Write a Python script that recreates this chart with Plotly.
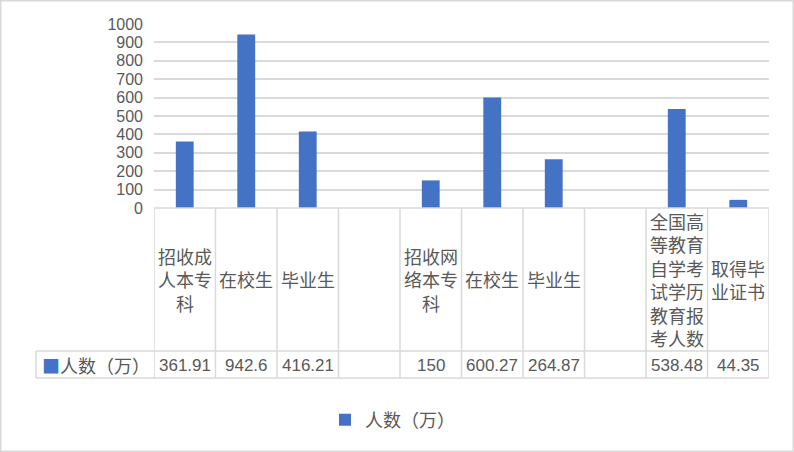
import plotly.graph_objects as go

# 数据
categories = ["招收成人本专科", "在校生", "毕业生", "",
              "招收网络本专科", "在校生", "毕业生", "",
              "全国高等教育自学考试学历教育报考人数", "取得毕业证书"]
values = [361.91, 942.6, 416.21, None, 150, 600.27, 264.87, None, 538.48, 44.35]
value_labels = ["361.91", "942.6", "416.21", "", "150", "600.27", "264.87", "",
                "538.48", "44.35"]
series_name = "人数（万）"
y_ticks = list(range(0, 1001, 100))

W, H = 794, 452
L, R, T, B = 154, 769, 24, 208   # 绘图区像素边界
BAR = "#4472C4"
GRID = "#D9D9D9"
TXT = "#595959"
FONT = "Noto Sans CJK SC"
NUMFONT = "Liberation Sans"


def px(p):
    return (p - L) / (R - L)


def py(p):
    return (B - p) / (B - T)


def wrap(s, n=3):
    return "<br>".join(s[i:i + n] for i in range(0, len(s), n))


xs = list(range(len(categories)))

fig = go.Figure()
fig.add_trace(go.Bar(x=xs, y=values, name=series_name,
                     marker=dict(color=BAR, line=dict(width=0))))

shapes = []
line = dict(color=GRID, width=1.5)
# 表格竖线
for i in range(len(categories) + 1):
    shapes.append(dict(type="line", xref="x", yref="paper",
                       x0=i - 0.5, x1=i - 0.5, y0=py(B), y1=py(378), line=line))
# 表格横线
shapes.append(dict(type="line", xref="paper", yref="paper",
                   x0=0, x1=1, y0=py(B), y1=py(B), line=line))
for yy in (351, 378):
    shapes.append(dict(type="line", xref="paper", yref="paper",
                       x0=px(36), x1=1, y0=py(yy), y1=py(yy), line=line))
shapes.append(dict(type="line", xref="paper", yref="paper",
                   x0=px(36), x1=px(36), y0=py(351), y1=py(378), line=line))
# 外框
shapes.append(dict(type="rect", xref="paper", yref="paper",
                   x0=px(0.75), x1=px(793.25), y0=py(0.75), y1=py(451.25),
                   line=dict(color=GRID, width=1.5)))

annotations = []
for i, c in enumerate(categories):
    if c:
        annotations.append(dict(x=i, y=py(279), xref="x", yref="paper",
                                yanchor="middle", text=wrap(c),
                                showarrow=False, align="center",
                                font=dict(size=18, color=TXT, family=FONT)))
    if value_labels[i]:
        annotations.append(dict(x=i, y=py(365), xref="x", yref="paper",
                                yanchor="middle", text=value_labels[i],
                                showarrow=False,
                                font=dict(size=17, color=TXT, family=NUMFONT)))
annotations.append(dict(x=px(40), y=py(365), xref="paper", yref="paper",
                        xanchor="left", yanchor="middle", showarrow=False,
                        text=f"<span style='color:{BAR}'>■</span>{series_name}",
                        font=dict(size=18, color=TXT, family=FONT)))

fig.update_layout(
    width=W, height=H,
    margin=dict(l=L, r=W - R, t=T, b=H - B, autoexpand=False),
    paper_bgcolor="white", plot_bgcolor="white",
    bargap=0.71,
    showlegend=True,
    legend=dict(orientation="h", x=px(325), y=py(420), xanchor="left",
                yanchor="middle", font=dict(size=18, color=TXT, family=FONT)),
    xaxis=dict(range=[-0.5, len(categories) - 0.5], showticklabels=False,
               showgrid=False, zeroline=False, showline=False, ticks=""),
    yaxis=dict(range=[0, 1000], tickvals=y_ticks, showgrid=True,
               gridcolor=GRID, gridwidth=1.5, zeroline=False, showline=False,
               ticklabelstandoff=10,
               tickfont=dict(size=16, color=TXT, family=NUMFONT)),
    shapes=shapes,
    annotations=annotations,
)

fig.write_html("out.html", config={"displayModeBar": False},
               post_script="document.body.style.margin='0';")
